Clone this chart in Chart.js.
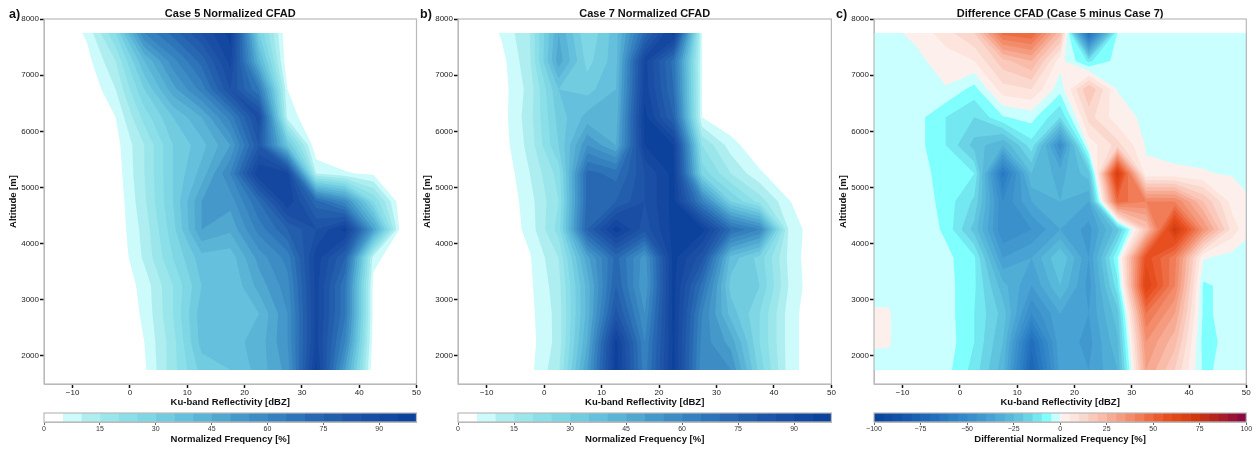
<!DOCTYPE html>
<html>
<head>
<meta charset="utf-8">
<title>CFAD comparison</title>
<script src="https://cdn.jsdelivr.net/npm/chart.js@4/dist/chart.umd.min.js"></script>
<style>
    html, body { margin: 0; padding: 0; background: #fff; overflow: hidden; }
    body { position: relative; width: 1258px; height: 449px; font-family: "Liberation Sans", Arial, sans-serif; }
    canvas { position: absolute; filter: blur(0.5px); }
    .tag { position: absolute; top: 7px; font: bold 12.5px "Liberation Sans", Arial, sans-serif; color: #111; filter: blur(0.4px); }
</style>
</head>
<body>
<div class="tag" style="left:9px">a)</div>
<div class="tag" style="left:420px">b)</div>
<div class="tag" style="left:836px">c)</div>
<canvas id="panelA" width="426" height="408" style="left:0;top:0"></canvas>
<canvas id="panelB" width="426" height="408" style="left:414px;top:0"></canvas>
<canvas id="panelC" width="426" height="408" style="left:830px;top:0"></canvas>
<canvas id="barA" width="426" height="40" style="left:0;top:405px"></canvas>
<canvas id="barB" width="426" height="40" style="left:414px;top:405px"></canvas>
<canvas id="barC" width="426" height="40" style="left:830px;top:405px"></canvas>
<script>
(function () {
    'use strict';

    // grid of the contour plots
    const altitudes = [7750, 7250, 6750, 6250, 5750, 5250, 4750, 4250, 3750, 3250, 2750, 2250, 1750];
    const reflectivity = [-15, -12.5, -7.5, -2.5, 2.5, 7.5, 12.5, 17.5, 22.5, 27.5, 32.5, 37.5, 42.5, 47.5, 50];

    // normalized frequency [%], one row per altitude
    const case5Freq = [
        [0, 0, 6, 25, 60, 72, 85, 97, 30, 0, 0, 0, 0, 0, 0],
        [0, 0, 3, 15, 40, 58, 72, 92, 42, 0, 0, 0, 0, 0, 0],
        [0, 0, 0, 10, 30, 48, 62, 85, 65, 5, 0, 0, 0, 0, 0],
        [0, 0, 0, 5, 22, 35, 45, 62, 88, 8, 0, 0, 0, 0, 0],
        [0, 0, 0, 3, 15, 30, 38, 50, 80, 35, 0, 0, 0, 0, 0],
        [0, 0, 0, 2, 15, 30, 42, 60, 95, 92, 10, 5.5, 4, 0, 0],
        [0, 0, 0, 1, 14, 30, 50, 52, 70, 95, 72, 58, 25, 0, 0],
        [0, 0, 0, 1, 12, 28, 50, 46, 62, 75, 85, 97, 50, 0, 0],
        [0, 0, 0, 0, 11, 25, 38, 37, 52, 62, 93, 75, 7, 0, 0],
        [0, 0, 0, 0, 7, 20, 35, 35, 47, 58, 92, 66, 3, 0, 0],
        [0, 0, 0, 0, 6, 20, 38, 37, 40, 55, 92, 66, 3, 0, 0],
        [0, 0, 0, 0, 5, 18, 37, 38, 42, 55, 92, 60, 2, 0, 0],
        [0, 0, 0, 0, 4, 18, 32, 35, 42, 52, 97, 50, 0, 0, 0]
    ];
    const case7Freq = [
        [0, 0, 5.5, 15, 45, 25, 38, 72, 98, 5, 0, 0, 0, 0, 0],
        [0, 0, 3, 14, 48, 28, 38, 92, 68, 5, 0, 0, 0, 0, 0],
        [0, 0, 2.5, 12, 35, 33, 40, 93, 70, 5, 0, 0, 0, 0, 0],
        [0, 0, 2.5, 13, 32, 42, 42, 97, 75, 5, 0, 0, 0, 0, 0],
        [0, 0, 2, 12, 30, 55, 45, 95, 95, 20, 7.5, 0, 0, 0, 0],
        [0, 0, 0.5, 10, 22, 72, 68, 85, 97, 28, 15, 6, 0, 0, 0],
        [0, 0, 0, 8, 20, 72, 75, 85, 97, 62, 30, 18, 5.5, 0, 0],
        [0, 0, 0, 7, 22, 75, 98, 82, 97, 97, 70, 60, 10, 0, 0],
        [0, 0, 0, 4.5, 15, 48, 72, 52, 97, 82, 38, 28, 9, 0, 0],
        [0, 0, 0, 4, 13, 42, 75, 50, 97, 68, 33, 30, 10, 0, 0],
        [0, 0, 0, 3.5, 12, 42, 82, 55, 97, 60, 38, 25, 8, 0, 0],
        [0, 0, 0, 3, 12, 45, 97, 60, 96, 58, 48, 25, 8, 0, 0],
        [0, 0, 0, 3.5, 14, 50, 98, 62, 97, 56, 55, 28, 8, 0, 0]
    ];
    const diffFreq = [
        [-1, -1, 1, 8, 15, 47, 50, 22, -68, -4.5, -1, -1, -1, -1, -1],
        [-1, -1, -1, 2, 5, 18, 25, 2, -11, -3, -1, -1, -1, -1, -1],
        [-1, -1, -1, -0.3, -7, 8, 10, -3, 20, -0.2, -1, -1, -1, -1, -1],
        [-1, -1, -3, -10, -15, -5.5, -3, -15, 12, 2, -1, -1, -1, -1, -1],
        [-1, -1, -3, -10, -22, -30, -12, -48, 2, 12, -0.5, -1, -1, -1, -1],
        [-1, -1, -2, -8, -10, -62, -25, -32, -22, 70, 1, 0.5, 0.2, -0.3, -1],
        [-1, -1, -1.5, -7, -16, -50, -35, -30, -35, 48, 40, 40, 20, 3, 0.5],
        [-1, -1, -1, -6, -22, -50, -45, -35, -42, -22, 19, 72, 35, 8, 2],
        [-1, -1, -1, -3.5, -9, -40, -35, -20, -40, -5, 58, 42, 0.5, -2, -4],
        [-1, -1, -1, -3, -9, -28, -40, -25, -42, -12, 65, 40, -6, -3, -2],
        [0.3, 0.3, -3, -2.5, -10, -22, -50, -35, -40, -22, 45, 30, -6, -3, -2],
        [0.3, 0.3, -3, -2, -10, -25, -68, -36, -42, -26, 35, 22, -7, -3, -2],
        [-1, -1, -1, -3, -12, -28, -75, -38, -40, -30, 30, 15, -6, -3, -2]
    ];

    // tick labels
    const xTicks = [-10, 0, 10, 20, 30, 40, 50];
    const yTicks = [2000, 3000, 4000, 5000, 6000, 7000, 8000];
    const freqTicks = [0, 15, 30, 45, 60, 75, 90];
    const diffTicks = [-100, -75, -50, -25, 0, 25, 50, 75, 100];

    // contour bands: lower edge of each band and its colour
    const freqLevels = [0, 5, 10, 15, 20, 25, 30, 35, 40, 45, 50, 55, 60, 65, 70, 75, 80, 85, 90, 95, 100];
    const freqColors = ['#ffffff', '#cdfafa', '#aeeef0', '#9be6ea', '#8adfe8', '#7fd6e4', '#72cce0', '#64c0dc', '#5ab4d6', '#50a8d0',
        '#4598ca', '#3d8cc4', '#3580be', '#2e74b8', '#2868b2', '#235eac', '#1f55a8', '#1a4ea4', '#1448a0', '#0c429c'];
    const diffLevels = [-100, -95, -90, -85, -80, -75, -70, -65, -60, -55, -50, -45, -40, -35, -30, -25, -20, -15, -10, -5,
        0, 5, 10, 15, 20, 25, 30, 35, 40, 45, 50, 55, 60, 65, 70, 75, 80, 85, 90, 95, 100];
    const diffColors = ['#0b459e', '#0e4ba3', '#1251a8', '#1658ae', '#1a60b3', '#1e68b8', '#2270bd', '#2778c1', '#2c80c5', '#3288c8',
        '#3990cb', '#4098cf', '#48a2d3', '#50add6', '#58b8da', '#60c4de', '#6ad4e6', '#74e8f0', '#80ffff', '#c9ffff',
        '#fdf0ec', '#fde5de', '#fbd8ce', '#fac9bb', '#f9bca9', '#f7ab94', '#f59b7f', '#f38c6b', '#f17c58', '#ee6c44',
        '#eb5c30', '#e84f20', '#e04818', '#d84015', '#d03812', '#c43015', '#b5261d', '#a81c28', '#9a1235', '#8c0a42'];

    const SPINE = '#b9b9b9';
    const FONT = '"Liberation Sans", Arial, sans-serif';

    function tickText(value) {
        return value < 0 ? '\u2212' + Math.abs(value) : String(value);
    }

    // one polygon of the cell where z >= level (corners walked in order)
    function clipCell(corners, level) {
        const out = [];
        for (let i = 0; i < 4; i++) {
            const a = corners[i];
            const b = corners[(i + 1) % 4];
            if (a.z >= level) out.push(a);
            if ((a.z >= level) !== (b.z >= level)) {
                const t = (level - a.z) / (b.z - a.z);
                out.push({ x: a.x + (b.x - a.x) * t, y: a.y + (b.y - a.y) * t, z: level });
            }
        }
        return out;
    }

    // filled contours, painted from the lowest band up, from the chart's own datasets and scales
    const contourFill = {
        id: 'contourFill',
        beforeDatasetsDraw: function (chart, args, opts) {
            const ctx = chart.ctx;
            const xs = chart.scales.x;
            const ys = chart.scales.y;
            const rows = chart.data.datasets.map(function (d) { return d.data; });
            ctx.save();
            opts.colors.forEach(function (color, k) {
                const level = opts.levels[k];
                if (color === '#ffffff') return;
                ctx.beginPath();
                for (let r = 0; r < rows.length - 1; r++) {
                    for (let c = 0; c < rows[r].length - 1; c++) {
                        const poly = clipCell([rows[r][c], rows[r][c + 1], rows[r + 1][c + 1], rows[r + 1][c]], level);
                        poly.forEach(function (p, i) {
                            const px = xs.getPixelForValue(p.x);
                            const py = ys.getPixelForValue(p.y);
                            if (i === 0) ctx.moveTo(px, py);
                            else ctx.lineTo(px, py);
                        });
                        if (poly.length) ctx.closePath();
                    }
                }
                ctx.fillStyle = color;
                ctx.fill();
            });
            ctx.restore();
        }
    };

    const frameBox = {
        id: 'frameBox',
        afterDatasetsDraw: function (chart) {
            const a = chart.chartArea;
            chart.ctx.save();
            chart.ctx.strokeStyle = SPINE;
            chart.ctx.lineWidth = 1.2;
            chart.ctx.strokeRect(a.left, a.top, a.right - a.left, a.bottom - a.top);
            chart.ctx.restore();
        }
    };

    function noSidePadding(scale, size) {
        if (scale.isHorizontal()) scale.height = size;
        else scale.width = size;
        scale.paddingLeft = 0;
        scale.paddingRight = 0;
        scale.paddingTop = 0;
        scale.paddingBottom = 0;
    }

    function useTicks(values) {
        return function (scale) {
            scale.ticks = values.map(function (v) { return { value: v }; });
        };
    }

    function initPanel(canvasId, titleText, grid, levels, colors, plotWidth) {
        const datasets = altitudes.map(function (alt, r) {
            return {
                label: String(alt),
                data: reflectivity.map(function (x, c) { return { x: x, y: alt, z: grid[r][c] }; }),
                pointRadius: 0,
                showLine: false
            };
        });
        new Chart(document.getElementById(canvasId), {
            type: 'scatter',
            data: { datasets: datasets },
            plugins: [contourFill, frameBox],
            options: {
                responsive: false,
                animation: false,
                events: [],
                layout: { padding: { left: 0, top: 0, right: 426 - 44 - plotWidth, bottom: 0 } },
                plugins: {
                    legend: { display: false },
                    tooltip: { enabled: false },
                    title: {
                        display: true,
                        text: titleText,
                        fullSize: false,
                        color: '#111',
                        font: { family: FONT, size: 11, weight: 'bold', lineHeight: 1.2 },
                        padding: { top: 7.5, bottom: -1.7 }
                    },
                    contourFill: { levels: levels, colors: colors }
                },
                scales: {
                    x: {
                        type: 'linear',
                        min: -15,
                        max: 50,
                        afterBuildTicks: useTicks(xTicks),
                        afterFit: function (s) { noSidePadding(s, 24); },
                        ticks: {
                            autoSkip: false,
                            maxRotation: 0,
                            padding: 0,
                            color: '#222',
                            font: { family: FONT, size: 8 },
                            callback: tickText
                        },
                        grid: { drawOnChartArea: false, tickLength: 4, tickColor: '#111', tickWidth: 1.5 },
                        border: { color: SPINE },
                        title: {
                            display: true,
                            text: 'Ku-band Reflectivity [dBZ]',
                            color: '#111',
                            padding: 0,
                            font: { family: FONT, size: 9.5, weight: 'bold' }
                        }
                    },
                    y: {
                        type: 'linear',
                        min: 1500,
                        max: 8000,
                        afterBuildTicks: useTicks(yTicks),
                        afterFit: function (s) { noSidePadding(s, 44); },
                        ticks: {
                            autoSkip: false,
                            padding: 1,
                            color: '#222',
                            font: { family: FONT, size: 8 },
                            callback: tickText
                        },
                        grid: { drawOnChartArea: false, tickLength: 4, tickColor: '#111', tickWidth: 1.5 },
                        border: { color: SPINE },
                        title: {
                            display: true,
                            text: 'Altitude [m]',
                            color: '#111',
                            padding: { top: 8, bottom: 0 },
                            font: { family: FONT, size: 9.5, weight: 'bold' }
                        }
                    }
                }
            }
        });
    }

    function initColorbar(canvasId, labelText, levels, colors, ticks, plotWidth) {
        new Chart(document.getElementById(canvasId), {
            type: 'bar',
            data: {
                labels: [''],
                datasets: colors.map(function (color, k) {
                    return {
                        data: [[levels[k], levels[k + 1]]],
                        backgroundColor: color,
                        borderWidth: 0,
                        grouped: false,
                        barPercentage: 1,
                        categoryPercentage: 1
                    };
                })
            },
            plugins: [frameBox],
            options: {
                indexAxis: 'y',
                responsive: false,
                animation: false,
                events: [],
                layout: { padding: { left: 44, top: 8, right: 426 - 44 - plotWidth, bottom: 0 } },
                plugins: { legend: { display: false }, tooltip: { enabled: false } },
                scales: {
                    y: { display: false },
                    x: {
                        type: 'linear',
                        min: levels[0],
                        max: levels[levels.length - 1],
                        afterBuildTicks: useTicks(ticks),
                        afterFit: function (s) { noSidePadding(s, 23); },
                        ticks: {
                            autoSkip: false,
                            maxRotation: 0,
                            padding: 0,
                            color: '#333',
                            font: { family: FONT, size: 7 },
                            callback: tickText
                        },
                        grid: { drawOnChartArea: false, tickLength: 3, tickColor: '#666', tickWidth: 1 },
                        border: { color: SPINE },
                        title: {
                            display: true,
                            text: labelText,
                            color: '#111',
                            padding: 0,
                            font: { family: FONT, size: 9.5, weight: 'bold' }
                        }
                    }
                }
            }
        });
    }

    initPanel('panelA', 'Case 5 Normalized CFAD', case5Freq, freqLevels, freqColors, 372.5);
    initPanel('panelB', 'Case 7 Normalized CFAD', case7Freq, freqLevels, freqColors, 373.4);
    initPanel('panelC', 'Difference CFAD (Case 5 minus Case 7)', diffFreq, diffLevels, diffColors, 372.3);
    initColorbar('barA', 'Normalized Frequency [%]', freqLevels, freqColors, freqTicks, 372.5);
    initColorbar('barB', 'Normalized Frequency [%]', freqLevels, freqColors, freqTicks, 373.4);
    initColorbar('barC', 'Differential Normalized Frequency [%]', diffLevels, diffColors, diffTicks, 372.3);
})();
</script>
</body>
</html>
